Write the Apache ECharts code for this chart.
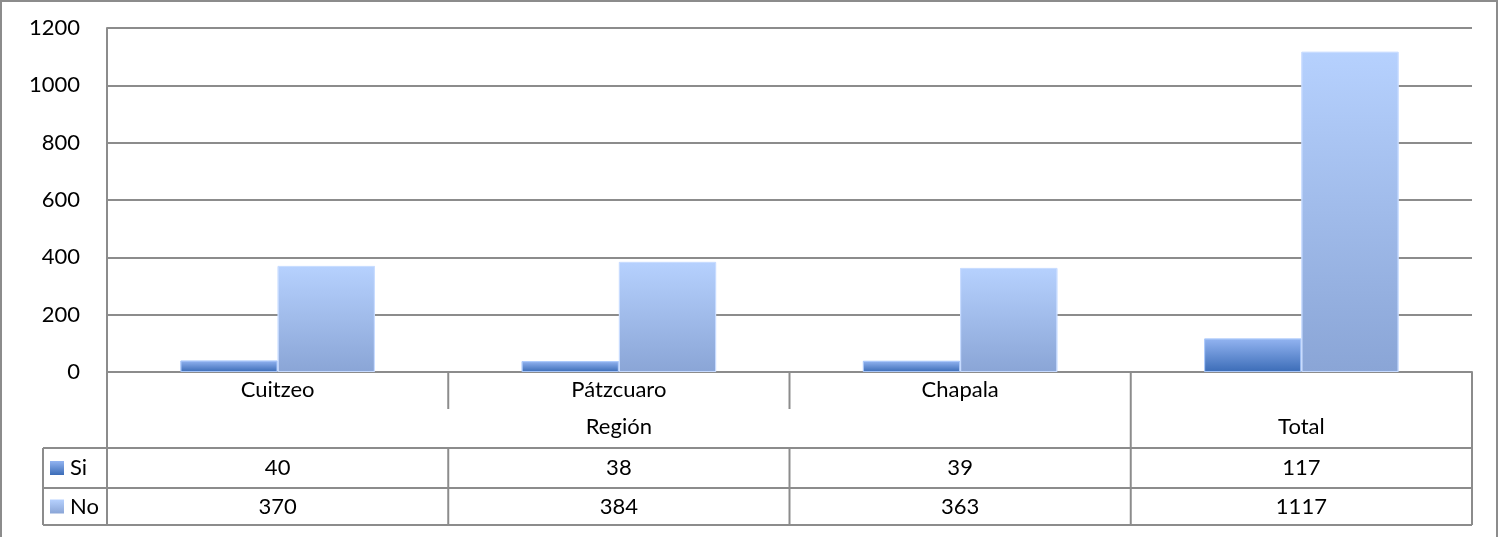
<!DOCTYPE html>
<html>
<head>
<meta charset="utf-8">
<title>Si / No por región</title>
<script src="https://cdn.jsdelivr.net/npm/echarts/dist/echarts.min.js"></script>
<style>
  html, body { margin: 0; padding: 0; background: #fff; }
  #chart { width: 1500px; height: 537px; }
</style>
</head>
<body>
<div id="chart"></div>
<script>
// data
const regions = ['Cuitzeo', 'Pátzcuaro', 'Chapala']
const categories = regions.concat(['Total'])
const groupLabels = ['Región', 'Total']
const seriesNames = ['Si', 'No']
const siValues = [40, 38, 39, 117]
const noValues = [370, 384, 363, 1117]
const yMax = 1200
const yStep = 200

const font = 'Lato, "Open Sans", sans-serif'
const fontSize = 22
const lineColor = '#8c8c8c'

function grad(top, bottom) {
  return new echarts.graphic.LinearGradient(0, 0, 0, 1, [
    { offset: 0, color: top },
    { offset: 1, color: bottom }
  ])
}
const siFill = grad('#93b4f1', '#3b6cb7')
const noFill = grad('#b6d1fe', '#8aa5d6')

const chart = echarts.init(document.getElementById('chart'), null, { renderer: 'canvas' })

chart.setOption({
  animation: false,
  backgroundColor: '#fff',
  grid: { left: 107, right: 28, top: 28, bottom: 165 },
  xAxis: {
    type: 'category',
    data: categories,
    axisLine: { show: true, lineStyle: { color: lineColor, width: 2 } },
    axisTick: { show: false },
    axisLabel: {
      margin: 7,
      color: '#000',
      fontFamily: font,
      fontSize: fontSize,
      formatter: v => (regions.indexOf(v) >= 0 ? v : '')
    }
  },
  yAxis: {
    type: 'value',
    min: 0,
    max: yMax,
    interval: yStep,
    axisLine: { show: true, lineStyle: { color: lineColor, width: 2 } },
    axisTick: { show: false },
    axisLabel: {
      margin: 27,
      color: '#000',
      fontFamily: font,
      fontSize: fontSize,
      formatter: v => String(v)
    },
    splitLine: { lineStyle: { color: lineColor, width: 2 } }
  },
  series: [
    {
      name: seriesNames[0],
      type: 'bar',
      data: siValues,
      barWidth: '28.5%',
      barGap: '0%',
      itemStyle: { color: siFill, borderColor: 'rgba(170,200,250,0.8)', borderWidth: 1 }
    },
    {
      name: seriesNames[1],
      type: 'bar',
      data: noValues,
      barWidth: '28.5%',
      barGap: '0%',
      itemStyle: { color: noFill, borderColor: 'rgba(200,220,255,0.9)', borderWidth: 1 }
    }
  ]
})

// data table under the axis, laid out from the axis pixels
function drawTable() {
  const px = i => chart.convertToPixel({ gridIndex: 0 }, [i, 0])
  const p0 = px(0)
  const half = (px(1)[0] - p0[0]) / 2
  const baseY = p0[1]
  const left = p0[0] - half
  const right = px(categories.length - 1)[0] + half
  const keyLeft = left - 64
  const tickEnd = baseY + 37
  const tableTop = baseY + 76
  const rowMid = baseY + 116
  const bottom = baseY + 153

  const els = []
  const line = (x1, y1, x2, y2) => els.push({
    type: 'line',
    shape: { x1, y1, x2, y2 },
    style: { stroke: lineColor, lineWidth: 2 },
    z: 10
  })
  const text = (t, x, y, align) => els.push({
    type: 'text',
    x, y,
    style: {
      text: t, fill: '#000', font: fontSize + 'px ' + font,
      align: align || 'center', verticalAlign: 'middle'
    },
    z: 10
  })

  // outer frame
  els.push({
    type: 'rect',
    shape: { x: 1, y: 1, width: 1496, height: 560 },
    style: { fill: null, stroke: lineColor, lineWidth: 2 }
  })

  // frame of axis rows
  line(left, baseY, left, bottom)
  line(right, baseY, right, bottom)
  const groupEdge = px(regions.length - 1)[0] + half
  line(groupEdge, baseY, groupEdge, bottom)
  for (let i = 1; i < regions.length; i++) {
    const x = px(i)[0] - half
    line(x, baseY, x, tickEnd)
    line(x, tableTop, x, bottom)
  }
  line(keyLeft, tableTop, right, tableTop)
  line(keyLeft, rowMid, right, rowMid)
  line(keyLeft, bottom, right, bottom)
  line(keyLeft, tableTop, keyLeft, bottom)

  // group labels
  text(groupLabels[0], (left + groupEdge) / 2, baseY + 55)
  text(groupLabels[1], (groupEdge + right) / 2, baseY + 55)

  // rows
  const rows = [
    { name: seriesNames[0], values: siValues, fill: siFill, y: (tableTop + rowMid) / 2 },
    { name: seriesNames[1], values: noValues, fill: noFill, y: (rowMid + bottom) / 2 }
  ]
  rows.forEach(r => {
    els.push({
      type: 'rect',
      shape: { x: keyLeft + 7, y: r.y - 7, width: 14, height: 14 },
      style: { fill: r.fill },
      z: 10
    })
    text(r.name, keyLeft + 27, r.y, 'left')
    r.values.forEach((v, i) => text(String(v), px(i)[0], r.y))
  })

  chart.setOption({ graphic: { elements: els } })
}

drawTable()
</script>
</body>
</html>
